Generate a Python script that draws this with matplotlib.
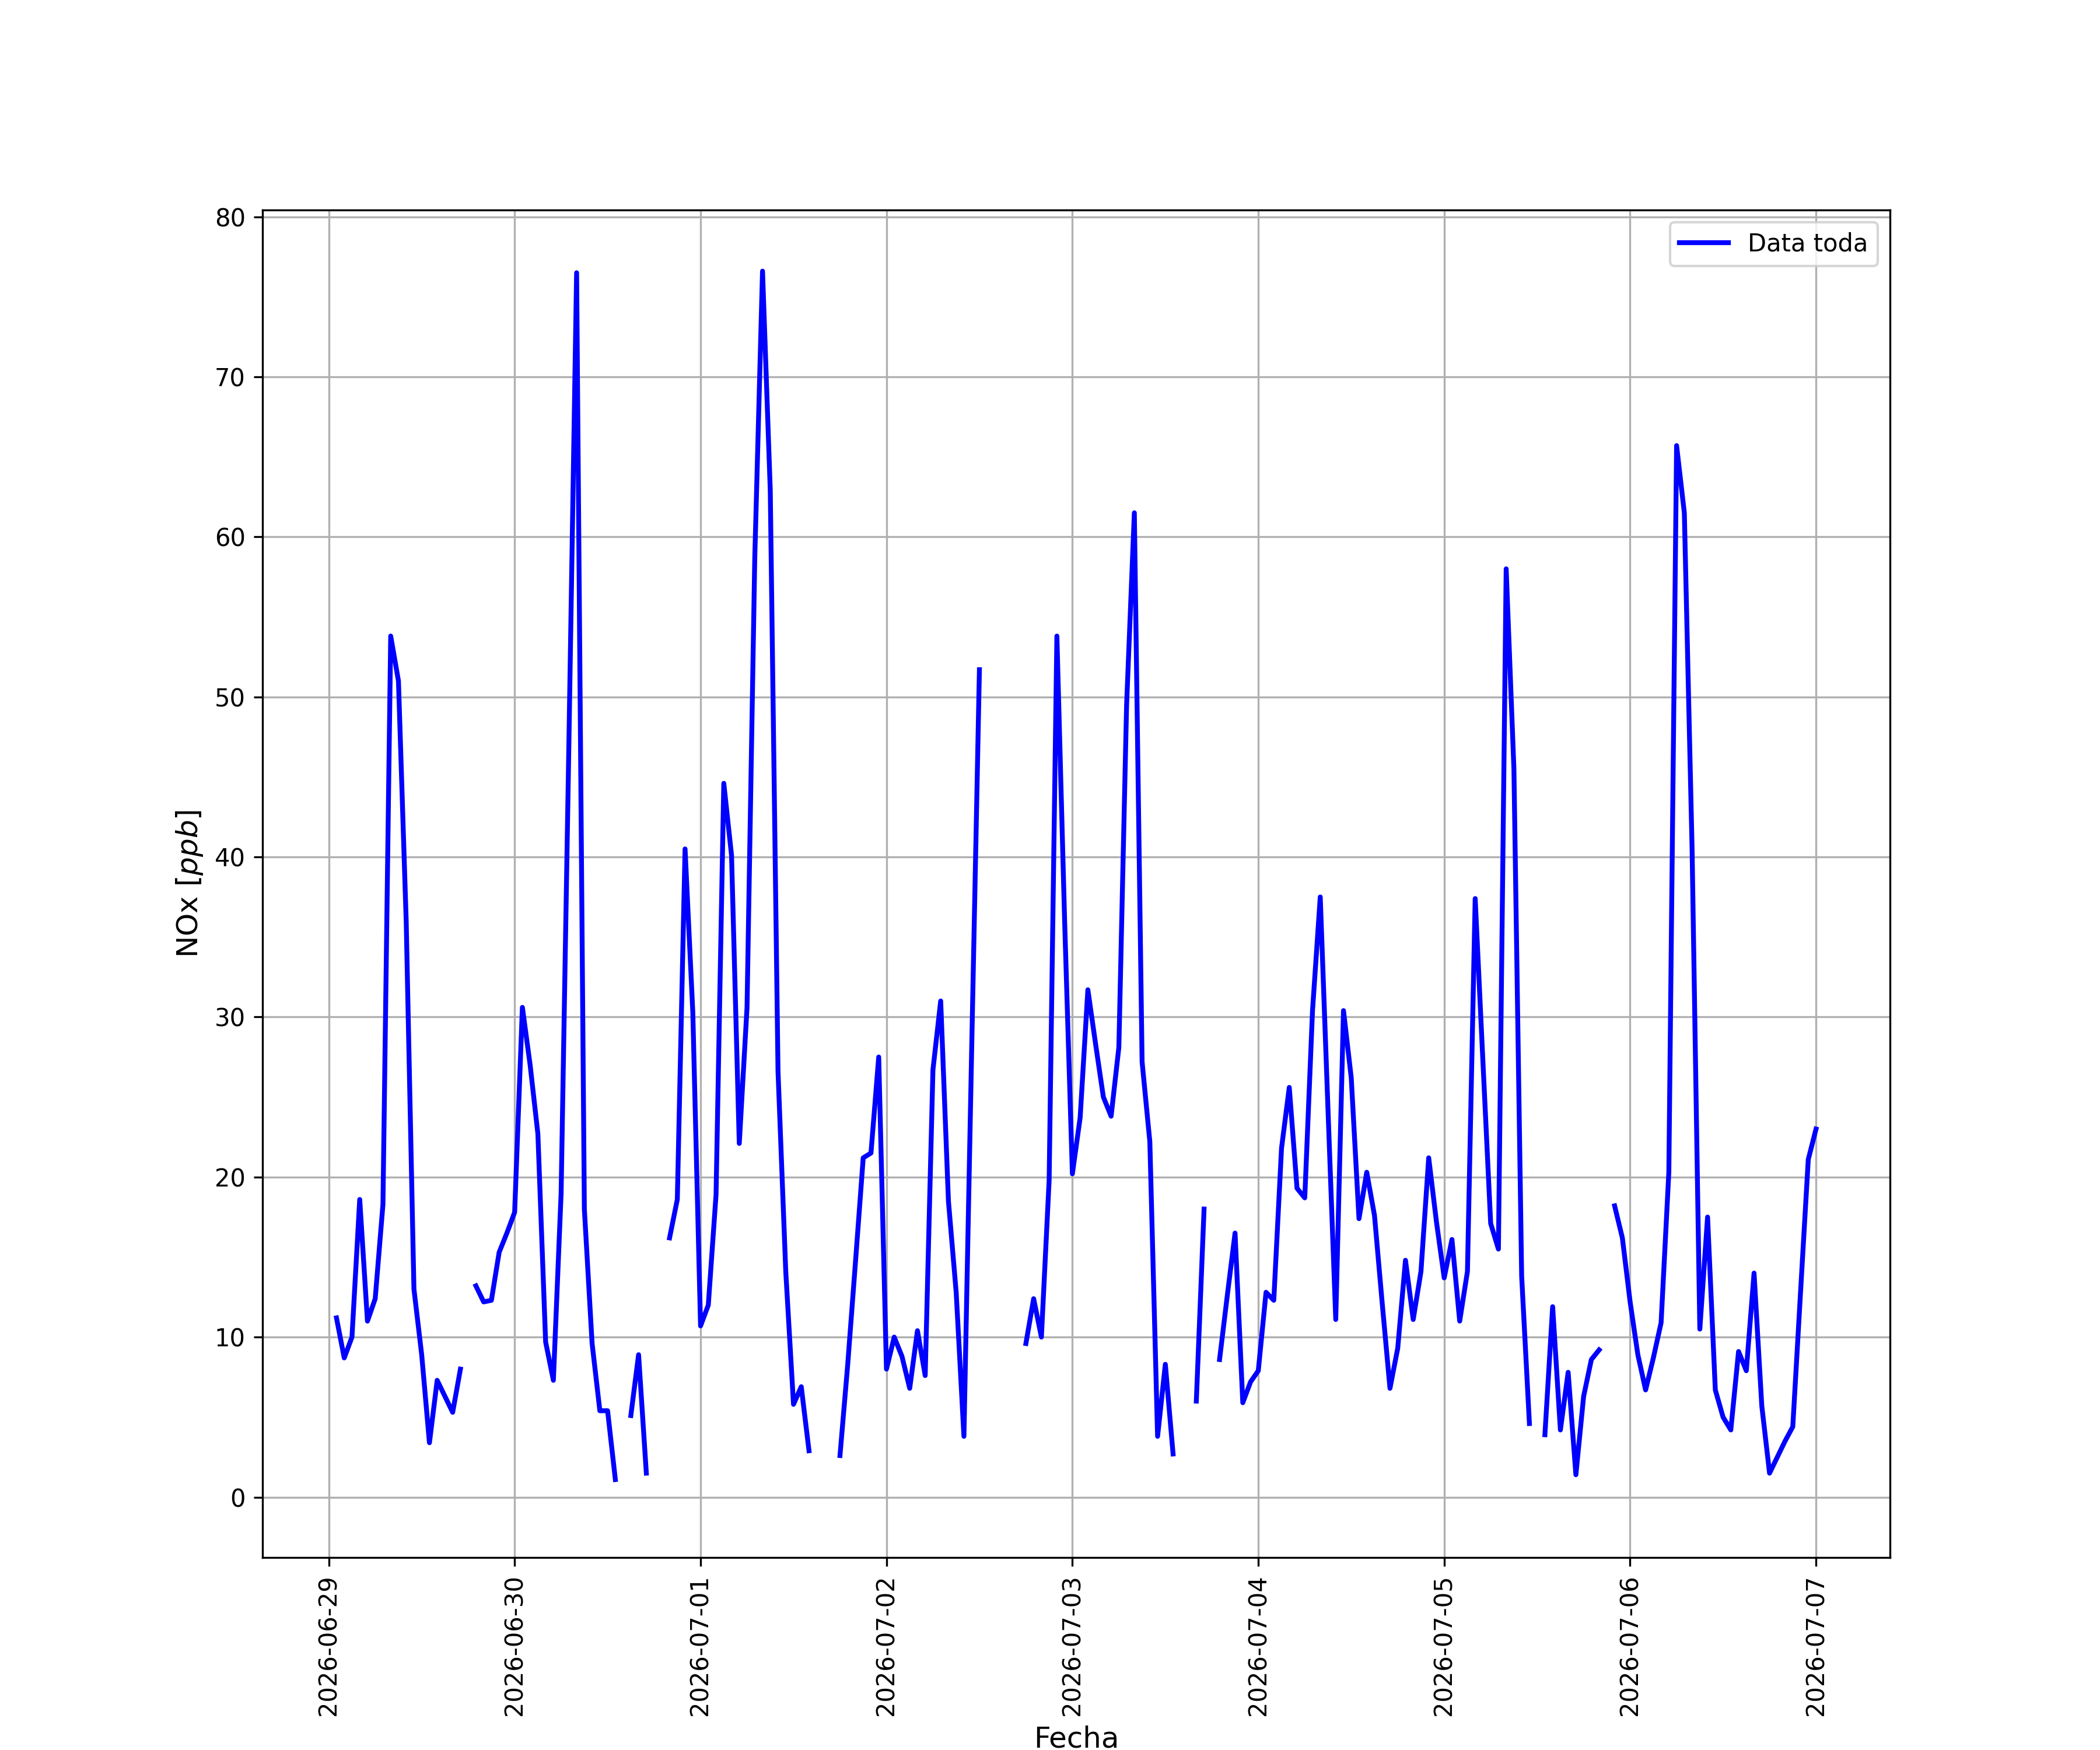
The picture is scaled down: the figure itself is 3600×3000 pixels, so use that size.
import numpy as np
import pandas as pd
import matplotlib
matplotlib.use("Agg")
import matplotlib.pyplot as plt

nan = np.nan
start = "2026-06-29 01:00"
nox_values = [
    11.2, 8.7, 10.0, 18.6, 11.0, 12.4, 18.3, 53.8, 51.0, 36.0,      # h1-10
    13.0, 8.9, 3.4, 7.3, 6.3, 5.3, 8.0, nan, 13.2, 12.2,            # h11-20
    12.3, 15.3, 16.5, 17.8, 30.6, 27.0, 22.7, 9.7, 7.3, 19.0,       # h21-30
    47.0, 76.5, 18.0, 9.6, 5.4, 5.4, 1.1, nan, 5.1, 8.9,            # h31-40
    1.5, nan, nan, 16.2, 18.6, 40.5, 30.3, 10.7, 12.0, 18.9,        # h41-50
    44.6, 40.1, 22.1, 30.6, 58.7, 76.6, 62.9, 26.6, 14.1, 5.8,      # h51-60
    6.9, 2.9, nan, nan, nan, 2.6, 8.3, 14.7, 21.2, 21.5,            # h61-70
    27.5, 8.0, 10.0, 8.8, 6.8, 10.4, 7.6, 26.7, 31.0, 18.5,         # h71-80
    12.8, 3.8, 28.0, 51.7, nan, nan, nan, nan, nan, 9.6,            # h81-90
    12.4, 10.0, 19.8, 53.8, 36.0, 20.2, 23.7, 31.7, 28.3, 25.0,     # h91-100
    23.8, 28.1, 49.5, 61.5, 27.2, 22.2, 3.8, 8.3, 2.7, nan,         # h101-110
    nan, 6.0, 18.0, nan, 8.6, 12.6, 16.5, 5.9, 7.2, 7.9,            # h111-120
    12.8, 12.3, 21.8, 25.6, 19.3, 18.7, 30.4, 37.5, 24.2, 11.1,     # h121-130
    30.4, 26.2, 17.4, 20.3, 17.6, 12.1, 6.8, 9.3, 14.8, 11.1,       # h131-140
    14.1, 21.2, 17.2, 13.7, 16.1, 11.0, 14.1, 37.4, 27.2, 17.1,     # h141-150
    15.5, 58.0, 45.5, 13.8, 4.6, nan, 3.9, 11.9, 4.2, 7.8,          # h151-160
    1.4, 6.3, 8.6, 9.2, nan, 18.2, 16.2, 12.2, 8.9, 6.7,            # h161-170
    8.7, 10.9, 20.3, 65.7, 61.5, 40.5, 10.5, 17.5, 6.7, 5.0,        # h171-180
    4.2, 9.1, 7.9, 14.0, 5.7, 1.5, 2.5, 3.5, 4.4, 12.8,             # h181-190
    21.1, 23.0,                                                     # h191-192
]
series_label = "Data toda"

fechas = pd.date_range(start, periods=len(nox_values), freq="h")
nox = np.array(nox_values, dtype=float)

fig, ax = plt.subplots(figsize=(12, 10), dpi=300)
ax.plot(fechas, nox, color="blue", linewidth=2, label=series_label)
ax.set_ylim(-3.77, 80.42)
ax.grid(True)
ax.set_xlabel("Fecha", fontsize=12)
ax.set_ylabel("NOx [$ppb$]", fontsize=12)
ax.legend(loc="upper right")
plt.setp(ax.get_xticklabels(), rotation=90)
fig.savefig("out.png", dpi=300)
